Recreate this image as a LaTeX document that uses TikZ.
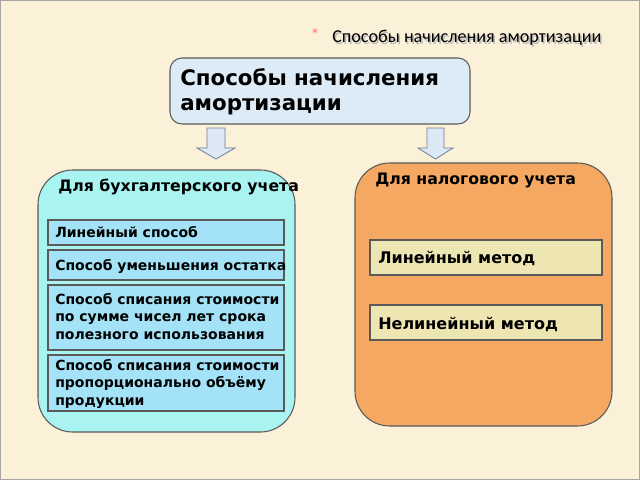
\documentclass[tikz,border=0pt]{standalone}
\usepackage{fontspec}
\setmainfont{DejaVu Sans}
\newfontfamily\titlefont{Carlito}
\definecolor{bg}{HTML}{FBF0D8}
\definecolor{topfill}{HTML}{DDEBF6}
\definecolor{cyanfill}{HTML}{A9F3F1}
\definecolor{innerblue}{HTML}{A3E2F7}
\definecolor{orangefill}{HTML}{F5A862}
\definecolor{khaki}{HTML}{EEE6B2}
\definecolor{edge}{HTML}{5A5A5A}
\definecolor{arrowfill}{HTML}{DCE8F6}
\definecolor{arrowedge}{HTML}{6C7F98}
\tikzset{
  bigbox/.style={draw=edge, line width=0.8pt, rounded corners=26pt},
  subbox/.style={draw=edge, line width=0.8pt, fill=innerblue},
  taxbox/.style={draw=edge, line width=0.8pt, fill=khaki},
  txt/.style={font=\bfseries\fontsize{10.5}{13.2}\selectfont, anchor=north west, align=left, inner sep=0pt},
  taxtxt/.style={font=\bfseries\fontsize{12}{14}\selectfont, anchor=west, inner sep=0pt},
  grouptxt/.style={anchor=north west, inner sep=0pt, font=\bfseries\fontsize{11.8}{13}\selectfont},
  downarrow/.style={draw=arrowedge, fill=arrowfill, line width=0.6pt}
}
\begin{document}
\begin{tikzpicture}[x=0.75pt,y=-0.75pt]
\useasboundingbox (0,0) rectangle (640,480);
\fill[bg] (0,0) rectangle (640,480);
\draw[gray!70, line width=1pt] (0.5,0.5) rectangle (639.5,479.5);
% title
\node[text=red!60, font=\fontsize{9}{9}\selectfont] (star) at (315,33) {*};
\node[text=gray!55, anchor=west, inner sep=0pt, font=\titlefont\fontsize{13.6}{14}\selectfont] (tshadow) at (333.5,39.5) {Способы начисления амортизации};
\node[anchor=west, inner sep=0pt, font=\titlefont\fontsize{13.6}{14}\selectfont] (title) at (332,38) {Способы начисления амортизации};
% top box
\draw[draw=edge, line width=0.8pt, fill=topfill, rounded corners=9pt] (170,58) rectangle (470,124);
\node[anchor=north west, align=left, inner sep=0pt, font=\bfseries\fontsize{16}{19}\selectfont] (main) at (180,68) {Способы начисления\\амортизации};
% arrows
\draw[downarrow] (207,128) -- (225,128) -- (225,148) -- (235,148) -- (216,159) -- (197,148) -- (207,148) -- cycle;
\draw[downarrow] (427,128) -- (444,128) -- (444,148) -- (453,148) -- (435.5,159) -- (418,148) -- (427,148) -- cycle;
% left group
\draw[bigbox, fill=cyanfill] (38,170) rectangle (295,432);
\node[grouptxt] (acc) at (58,179) {Для бухгалтерского учета};
\draw[subbox] (48,220) rectangle (284,245);
\node[txt] (a1) at (55,226) {Линейный способ};
\draw[subbox] (48,250) rectangle (284,280);
\node[txt] (a2) at (55,259) {Способ уменьшения остатка};
\draw[subbox] (48,285) rectangle (284,350);
\node[txt] (a3) at (55,293) {Способ списания стоимости\\по сумме чисел лет срока\\полезного использования};
\draw[subbox] (48,355) rectangle (284,411);
\node[txt] (a4) at (55,359) {Способ списания стоимости\\пропорционально объёму\\продукции};
% right group
\draw[bigbox, fill=orangefill] (355,163) rectangle (612,426);
\node[grouptxt] (tax) at (375,173) {Для налогового учета};
\draw[taxbox] (370,240) rectangle (602,275);
\node[taxtxt] (t1) at (378,258) {Линейный метод};
\draw[taxbox] (370,305) rectangle (602,340);
\node[taxtxt] (t2) at (378,324) {Нелинейный метод};
\end{tikzpicture}
\end{document}
